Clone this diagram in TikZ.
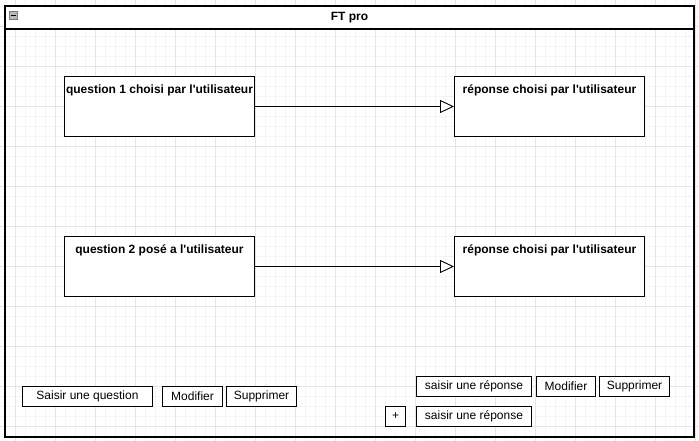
\documentclass[tikz,border=0pt]{standalone}
\usepackage{fontspec}
\newfontfamily\lsans{Liberation Sans}
\usetikzlibrary{arrows.meta,calc}
\definecolor{gridmajor}{HTML}{E5E5E5}
\definecolor{gridminor}{HTML}{F4F4F4}
\definecolor{iconfill}{HTML}{B8B8C0}
\definecolor{iconedge}{HTML}{7A7A80}
\begin{document}
\begin{tikzpicture}[x=1pt,y=-1pt,
  txt/.style={font=\lsans\fontsize{12}{14}\selectfont,inner sep=0pt},
  btxt/.style={font=\lsans\fontsize{12}{14}\selectfont\bfseries,inner sep=0pt},
  box/.style={draw=black,line width=1pt,fill=white,inner sep=0pt,anchor=north west,minimum width=190pt,minimum height=60pt},
  btn/.style={draw=black,line width=1pt,fill=white,inner sep=0pt,anchor=north west,minimum height=20pt,font=\lsans\fontsize{12}{14}\selectfont},
  link/.style={draw=black,line width=0.9pt,-{Triangle[length=14pt,width=13pt,fill=white,line width=0.9pt]}}
]
\useasboundingbox (0,0) rectangle (699,441);
\fill[white] (0,0) rectangle (699,441);
% grid
\foreach \x in {5,15,...,695} \draw[gridminor,line width=0.8pt] (\x,0) -- (\x,441);
\foreach \y in {6,16,...,436} \draw[gridminor,line width=0.8pt] (0,\y) -- (699,\y);
\foreach \x in {15,55,...,695} \draw[gridmajor,line width=0.8pt] (\x,0) -- (\x,441);
\foreach \y in {26,66,...,426} \draw[gridmajor,line width=0.8pt] (0,\y) -- (699,\y);
% container
\fill[white] (5,6) rectangle (694,29);
\draw[black,line width=1.2pt] (5,6) rectangle (694,437);
\draw[black,line width=1.2pt] (5,29) -- (694,29);
\node[btxt] (title) at (349.5,18) {FT pro};
% collapse icon
\node[draw=iconedge,fill=iconfill,line width=0.6pt,inner sep=0pt,minimum size=8pt,anchor=north west] (icon) at (9,11) {};
\draw[black,line width=1.2pt] ($(icon.west)+(1.5,0)$) -- ($(icon.east)+(-1.5,0)$);
% boxes
\node[box] (q1) at (64,76) {};
\node[btxt] (q1t) at ($(q1.north)+(0,14)$) {question 1 choisi par l'utilisateur};
\node[box] (r1) at (454,76) {};
\node[btxt] (r1t) at ($(r1.north)+(0,14)$) {réponse choisi par l'utilisateur};
\node[box] (q2) at (64,236) {};
\node[btxt] (q2t) at ($(q2.north)+(0,14)$) {question 2 posé a l'utilisateur};
\node[box] (r2) at (454,236) {};
\node[btxt] (r2t) at ($(r2.north)+(0,14)$) {réponse choisi par l'utilisateur};
\draw[link] (q1.east) -- (r1.west);
\draw[link] (q2.east) -- (r2.west);
% buttons
\node[btn,minimum width=130pt] (b1) at (22,386) {Saisir une question};
\node[btn,minimum width=60pt] (b2) at (162,386) {Modifier};
\node[btn,minimum width=70pt] (b3) at (226,386) {Supprimer};
\node[btn,minimum width=115pt] (b4) at (416,376) {saisir une réponse};
\node[btn,minimum width=59pt] (b5) at (536,376) {Modifier};
\node[btn,minimum width=70pt] (b6) at (599,376) {Supprimer};
\node[btn,minimum width=20pt] (b7) at (385,406) {+};
\node[btn,minimum width=115pt] (b8) at (416,406) {saisir une réponse};
\end{tikzpicture}
\end{document}
